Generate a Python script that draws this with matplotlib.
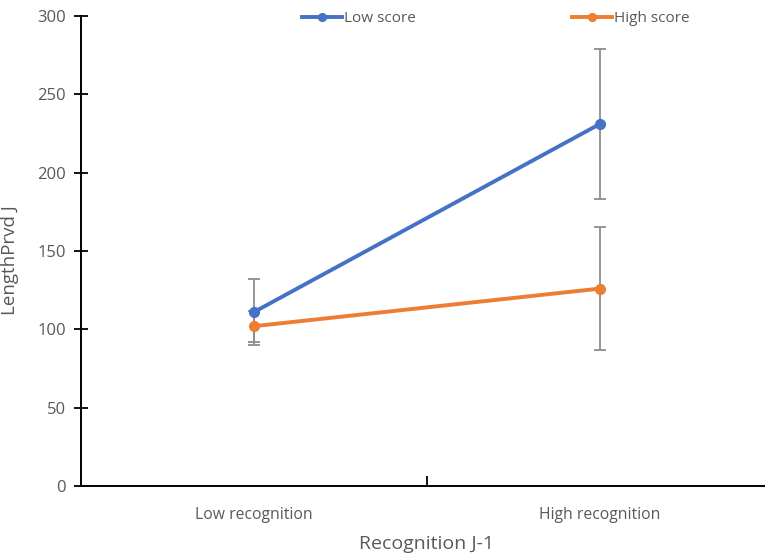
import matplotlib
matplotlib.use("Agg")
import matplotlib.pyplot as plt
from matplotlib.ticker import FixedLocator

# Data
categories = ["Low recognition", "High recognition"]
low_score = [111, 231]
low_score_err = [21, 48]
high_score = [102, 126]
high_score_err = [10, 39]
series_names = ["Low score", "High score"]

plt.rcParams["font.family"] = ["Open Sans", "DejaVu Sans"]
text_color = "#595959"
blue = "#4472C4"
orange = "#ED7D31"

fig = plt.figure(figsize=(7.65, 5.54), dpi=100)
ax = fig.add_axes([81 / 765, 68 / 554, (772.5 - 81) / 765, 470 / 554])

x = list(range(len(categories)))
for vals, errs, color, name in [
    (high_score, high_score_err, orange, series_names[1]),
    (low_score, low_score_err, blue, series_names[0]),
]:
    ax.errorbar(x, vals, yerr=errs, fmt="none", ecolor="#8c8c8c",
                elinewidth=1.3, capsize=4, capthick=1.3, zorder=2)
for vals, color, name in [
    (low_score, blue, series_names[0]),
    (high_score, orange, series_names[1]),
]:
    ax.plot(x, vals, color=color, lw=2.8, marker="o", markersize=7,
            label=name, zorder=3)

ax.set_xlim(-0.5, 1.5)
ax.set_ylim(0, 300)
ax.set_yticks(range(0, 301, 50))
ax.set_xticks(x)
ax.set_xticklabels(categories)
ax.xaxis.set_minor_locator(FixedLocator([0.5]))

for side in ["top", "right"]:
    ax.spines[side].set_visible(False)
for side in ["left", "bottom"]:
    ax.spines[side].set_linewidth(1.4)
    ax.spines[side].set_color("black")

ax.tick_params(axis="y", direction="inout", length=10, width=1.3,
               colors="black", labelcolor=text_color, labelsize=12, pad=6)
ax.tick_params(axis="x", which="major", length=0, labelcolor=text_color,
               labelsize=11.3, pad=15)
ax.tick_params(axis="x", which="minor", direction="in", length=7,
               width=1.3, colors="black")

ax.set_ylabel("LengthPrvd J", fontsize=13.5, color=text_color)
ax.yaxis.set_label_coords(-0.09, 0.48)
ax.set_xlabel("Recognition J-1", fontsize=14, color=text_color, labelpad=9)

ax.legend(loc="center", bbox_to_anchor=(0.6, 0.995), ncol=2, frameon=False,
          fontsize=11, labelcolor=text_color, handlelength=2.6,
          handletextpad=0.15, columnspacing=10.2, markerscale=0.8)

fig.savefig("out.png", dpi=100)
